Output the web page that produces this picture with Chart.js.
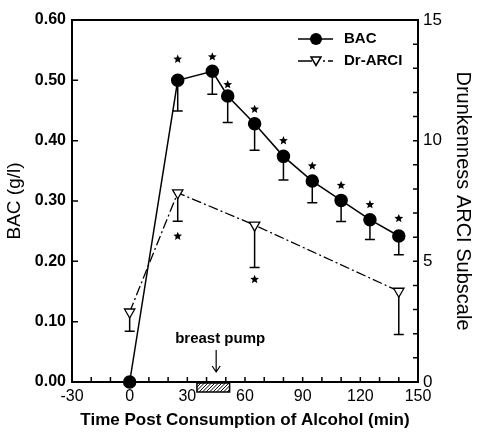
<!DOCTYPE html>
<html>
<head>
<meta charset="utf-8">
<script src="https://cdn.jsdelivr.net/npm/chart.js@4/dist/chart.umd.min.js"></script>
<style>
  html, body { margin: 0; padding: 0; background: #fff; }
</style>
</head>
<body>
<canvas id="bacChart" width="483" height="435"></canvas>
<script>
// BAC (g/l), left axis
const TIMES = [0, 25, 43, 51, 65, 80, 95, 110, 125, 140];
const BAC = [0.00, 0.500, 0.515, 0.474, 0.428, 0.374, 0.333, 0.301, 0.269, 0.242];
const BAC_LOW = [null, 0.449, 0.477, 0.430, 0.384, 0.335, 0.297, 0.266, 0.236, 0.211];
const BAC_STAR = [null, 0.535, 0.539, 0.493, 0.452, 0.400, 0.358, 0.326, 0.294, 0.271];

// Drunkenness ARCI subscale, right axis
const ARCI_TIMES = [0, 25, 65, 140];
const ARCI = [2.9, 7.84, 6.5, 3.76];
const ARCI_LOW = [2.1, 6.66, 4.74, 1.97];
const ARCI_STAR = [null, 6.04, 4.25, null];

const X_LABELS = [-30, 0, 30, 60, 90, 120, 150];
const Y2_LABELS = [0, 5, 10, 15];

// breast pump period (min)
const PUMP_START = 35;
const PUMP_END = 52;
const PUMP_ARROW = 45;

const FONT = "'Liberation Sans', Arial, sans-serif";
Chart.defaults.font.family = FONT;
Chart.defaults.color = '#000';

let toPoints = (xs, ys) => xs.map((x, i) => ({x: x, y: ys[i]}));

let drawStar = (ctx, x, y, r) => {
  ctx.beginPath();
  for (let i = 0; i < 10; i ++) {
    let rad = i % 2 ? r * 0.45 : r;
    let a = -Math.PI / 2 + i * Math.PI / 5;
    ctx.lineTo(x + rad * Math.cos(a), y + rad * Math.sin(a));
  }
  ctx.closePath();
  ctx.fill();
}

let drawErrors = (chart, times, mid, low, axisId) => {
  const ctx = chart.ctx;
  const xs = chart.scales.x;
  const ys = chart.scales[axisId];
  ctx.beginPath();
  times.forEach((t, i) => {
    if (low[i] == null) return;
    let px = xs.getPixelForValue(t);
    let top = ys.getPixelForValue(mid[i]);
    let bot = ys.getPixelForValue(low[i]);
    ctx.moveTo(px, top);
    ctx.lineTo(px, bot);
    ctx.moveTo(px - 5, bot);
    ctx.lineTo(px + 5, bot);
  });
  ctx.stroke();
}

let drawStars = (chart, times, stars, axisId) => {
  const xs = chart.scales.x;
  const ys = chart.scales[axisId];
  times.forEach((t, i) => {
    if (stars[i] == null) return;
    drawStar(chart.ctx, xs.getPixelForValue(t), ys.getPixelForValue(stars[i]), 4.6);
  });
}

const extrasPlugin = {
  id: 'extras',
  beforeDatasetsDraw(chart) {
    const ctx = chart.ctx;
    ctx.save();
    ctx.strokeStyle = '#000';
    ctx.lineWidth = 1.5;
    drawErrors(chart, TIMES, BAC, BAC_LOW, 'y');
    drawErrors(chart, ARCI_TIMES, ARCI, ARCI_LOW, 'y2');
    ctx.restore();
  },
  afterDatasetsDraw(chart) {
    const ctx = chart.ctx;
    const area = chart.chartArea;
    const xs = chart.scales.x;
    ctx.save();
    ctx.fillStyle = '#000';
    drawStars(chart, TIMES, BAC_STAR, 'y');
    drawStars(chart, ARCI_TIMES, ARCI_STAR, 'y2');

    // frame
    ctx.strokeStyle = '#000';
    ctx.lineWidth = 2;
    ctx.strokeRect(area.left, area.top, area.right - area.left, area.bottom - area.top);

    // inward ticks
    ctx.lineWidth = 1.5;
    ctx.beginPath();
    xs.ticks.forEach((t) => {
      let px = xs.getPixelForValue(t.value);
      ctx.moveTo(px, area.bottom);
      ctx.lineTo(px, area.bottom - 5);
    });
    chart.scales.y.ticks.forEach((t) => {
      let py = chart.scales.y.getPixelForValue(t.value);
      ctx.moveTo(area.left, py);
      ctx.lineTo(area.left + 6, py);
    });
    chart.scales.y2.ticks.forEach((t) => {
      let py = chart.scales.y2.getPixelForValue(t.value);
      ctx.moveTo(area.right, py);
      ctx.lineTo(area.right - 5, py);
    });
    ctx.stroke();

    // breast pump bar
    let x1 = xs.getPixelForValue(PUMP_START);
    let x2 = xs.getPixelForValue(PUMP_END);
    let y1 = area.bottom + 1;
    let y2 = area.bottom + 10;
    ctx.fillStyle = '#fff';
    ctx.fillRect(x1, y1, x2 - x1, y2 - y1);
    ctx.save();
    ctx.beginPath();
    ctx.rect(x1, y1, x2 - x1, y2 - y1);
    ctx.clip();
    ctx.lineWidth = 1;
    ctx.beginPath();
    for (let hx = x1 - 12; hx < x2 + 12; hx += 3.5) {
      ctx.moveTo(hx, y2);
      ctx.lineTo(hx + (y2 - y1), y1);
    }
    ctx.stroke();
    ctx.restore();
    ctx.lineWidth = 1.5;
    ctx.strokeRect(x1, y1, x2 - x1, y2 - y1);

    // arrow + label
    let ax = xs.getPixelForValue(PUMP_ARROW);
    ctx.lineWidth = 1.2;
    ctx.beginPath();
    ctx.moveTo(ax, area.bottom - 32);
    ctx.lineTo(ax, area.bottom - 10);
    ctx.moveTo(ax - 4, area.bottom - 16);
    ctx.lineTo(ax, area.bottom - 10);
    ctx.lineTo(ax + 4, area.bottom - 16);
    ctx.stroke();
    ctx.fillStyle = '#000';
    ctx.font = 'bold 15px ' + FONT;
    ctx.textAlign = 'center';
    ctx.textBaseline = 'middle';
    ctx.fillText('breast pump', ax + 4, area.bottom - 43);

    // legend
    let lx = area.right - 120;
    let ly = area.top + 19;
    ctx.lineWidth = 1.5;
    ctx.beginPath();
    ctx.moveTo(lx, ly);
    ctx.lineTo(lx + 35, ly);
    ctx.stroke();
    ctx.beginPath();
    ctx.arc(lx + 18, ly, 6, 0, Math.PI * 2);
    ctx.fill();
    let ly2 = ly + 22;
    ctx.beginPath();
    ctx.moveTo(lx, ly2);
    ctx.lineTo(lx + 14, ly2);
    ctx.moveTo(lx + 25, ly2);
    ctx.lineTo(lx + 27, ly2);
    ctx.moveTo(lx + 30, ly2);
    ctx.lineTo(lx + 35, ly2);
    ctx.stroke();
    ctx.fillStyle = '#fff';
    ctx.beginPath();
    ctx.moveTo(lx + 13, ly2 - 4);
    ctx.lineTo(lx + 23, ly2 - 4);
    ctx.lineTo(lx + 18, ly2 + 4.5);
    ctx.closePath();
    ctx.fill();
    ctx.stroke();
    ctx.fillStyle = '#000';
    ctx.font = 'bold 15px ' + FONT;
    ctx.textAlign = 'left';
    ctx.fillText('BAC', lx + 46, ly);
    ctx.fillText('Dr-ARCI', lx + 46, ly2);
    ctx.restore();
  }
};

new Chart(document.getElementById('bacChart'), {
  type: 'line',
  data: {
    datasets: [
      {
        label: 'BAC',
        data: toPoints(TIMES, BAC),
        yAxisID: 'y',
        borderColor: '#000',
        borderWidth: 1.5,
        pointStyle: 'circle',
        pointRadius: 6,
        pointBackgroundColor: '#000',
        pointBorderColor: '#000',
        clip: false
      },
      {
        label: 'Dr-ARCI',
        data: toPoints(ARCI_TIMES, ARCI),
        yAxisID: 'y2',
        borderColor: '#000',
        borderWidth: 1.3,
        borderDash: [10, 3, 2, 3],
        pointStyle: 'triangle',
        rotation: 180,
        pointRadius: 6,
        pointBackgroundColor: '#fff',
        pointBorderColor: '#000',
        pointBorderWidth: 1.3,
        clip: false
      }
    ]
  },
  options: {
    responsive: false,
    animation: false,
    devicePixelRatio: 1,
    layout: {padding: {top: 20, left: 0, right: 0, bottom: 0}},
    plugins: {legend: {display: false}, tooltip: {enabled: false}},
    scales: {
      x: {
        type: 'linear',
        min: -30,
        max: 150,
        afterFit: (s) => { s.height = 53; },
        grid: {display: false, drawTicks: false},
        border: {display: false},
        ticks: {
          stepSize: 10,
          autoSkip: false,
          maxRotation: 0,
          padding: 5,
          font: {size: 16},
          callback: (v) => X_LABELS.includes(v) ? String(v) : ''
        },
        title: {
          display: true,
          text: 'Time Post Consumption of Alcohol (min)',
          font: {size: 17, weight: 'bold'},
          padding: {top: 0, bottom: 4}
        }
      },
      y: {
        position: 'left',
        min: 0,
        max: 0.6,
        afterFit: (s) => { s.width = 72; },
        grid: {display: false, drawTicks: false},
        border: {display: false},
        ticks: {
          stepSize: 0.1,
          padding: 6,
          font: {size: 16, weight: 'bold'},
          callback: (v) => v.toFixed(2)
        },
        title: {
          display: true,
          text: 'BAC (g/l)',
          font: {size: 19},
          padding: {top: 3, bottom: 0}
        }
      },
      y2: {
        position: 'right',
        min: 0,
        max: 15,
        afterFit: (s) => { s.width = 65; },
        grid: {display: false, drawTicks: false},
        border: {display: false},
        ticks: {
          stepSize: 1,
          autoSkip: false,
          padding: 5,
          font: {size: 17},
          callback: (v) => Y2_LABELS.includes(v) ? String(v) : ''
        },
        title: {
          display: true,
          text: 'Drunkenness ARCI Subscale',
          font: {size: 20},
          padding: {top: 8, bottom: 0}
        }
      }
    }
  },
  plugins: [extrasPlugin]
});
</script>
</body>
</html>
